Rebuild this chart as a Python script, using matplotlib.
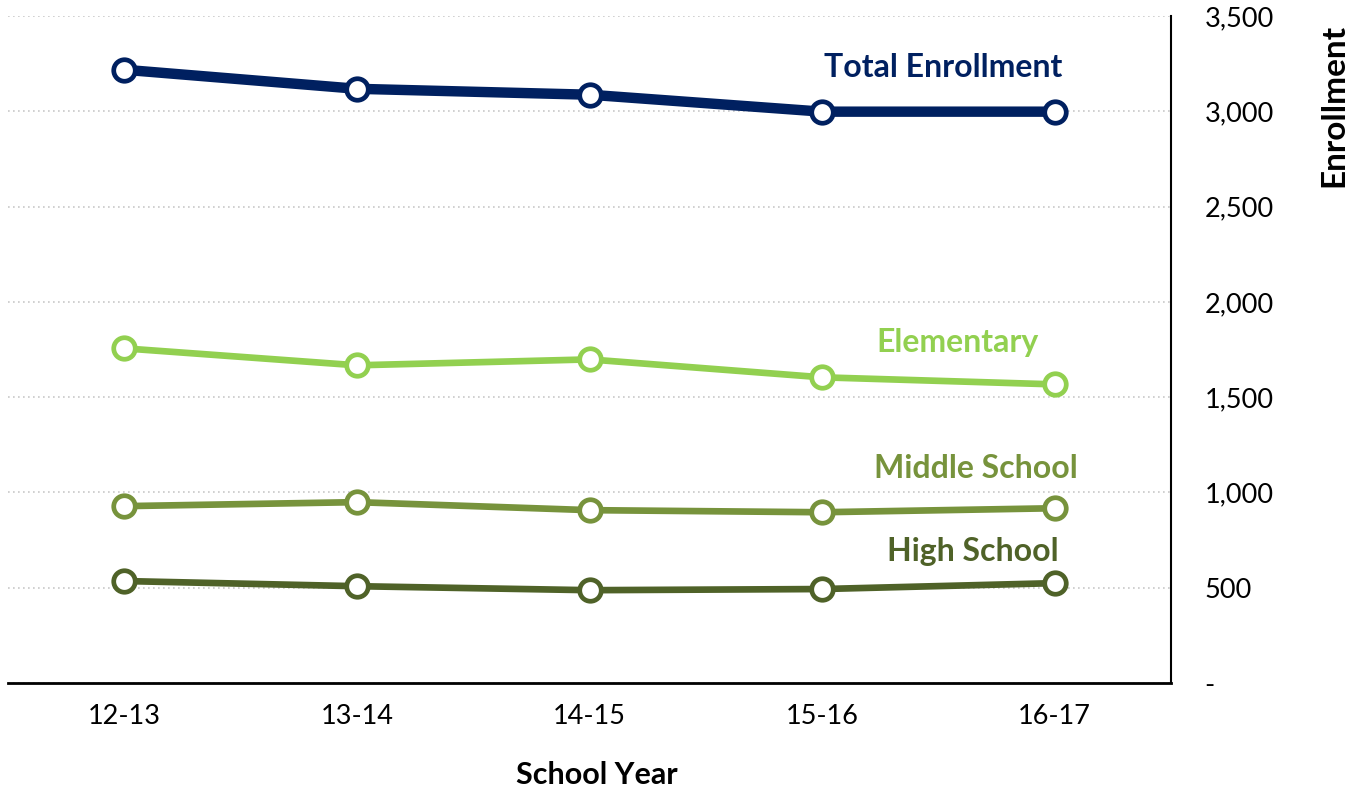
import matplotlib.pyplot as plt
from matplotlib.ticker import FuncFormatter

plt.rcParams['font.family'] = ['Lato', 'DejaVu Sans']

years = ["12-13", "13-14", "14-15", "15-16", "16-17"]
total = [3218, 3118, 3087, 2998, 2998]
elementary = [1756, 1667, 1698, 1604, 1567]
middle = [928, 949, 907, 896, 917]
high = [535, 508, 487, 493, 524]

series = [
    ("Total Enrollment", total, "#002060", 7.5, (3.52, 3229)),
    ("Elementary", elementary, "#92D050", 4.8, (3.58, 1787)),
    ("Middle School", middle, "#77933C", 4.8, (3.66, 1127)),
    ("High School", high, "#4F6228", 4.8, (3.65, 692)),
]

fig = plt.figure(figsize=(13.55, 7.94), dpi=100)
ax = fig.add_axes([8 / 1355, 111 / 794, 1163 / 1355, 667 / 794])

x = list(range(len(years)))
for name, vals, color, lw, (lx, ly) in series:
    ax.plot(x, vals, color=color, lw=lw, marker='o', markersize=15.5,
            markerfacecolor='white', markeredgecolor=color, markeredgewidth=3.4,
            solid_capstyle='round', zorder=3)
    ax.text(lx, ly, name, color=color, fontsize=23, fontweight='bold',
            ha='center', va='center')

ax.set_xlim(-0.5, 4.5)
ax.set_ylim(0, 3500)
ax.set_xticks(x)
ax.set_xticklabels(years)
ax.set_yticks(range(0, 3501, 500))
ax.yaxis.set_major_formatter(FuncFormatter(lambda v, p: "-" if v == 0 else f"{int(v):,}"))
ax.yaxis.tick_right()
ax.tick_params(axis='y', length=0, pad=24, labelsize=19.5)
ax.tick_params(axis='x', length=0, pad=15, labelsize=19.5)
for lbl in ax.get_yticklabels():
    lbl.set_horizontalalignment('left')

ax.grid(axis='y', color='#c8c8c8', linestyle=(0, (1, 2)), lw=1.2)
ax.set_axisbelow(True)
for s in ['top', 'left']:
    ax.spines[s].set_visible(False)
ax.spines['right'].set_linewidth(1.5)
ax.spines['bottom'].set_linewidth(2)

fig.text(597 / 1355, 1 - 775 / 794, "School Year", fontsize=22, fontweight='bold',
         ha='center', va='center')
fig.text(1334 / 1355, 1 - 105 / 794, "Enrollment", fontsize=24, fontweight='bold',
         ha='center', va='center', rotation=90)

fig.savefig("out.png", dpi=100)
